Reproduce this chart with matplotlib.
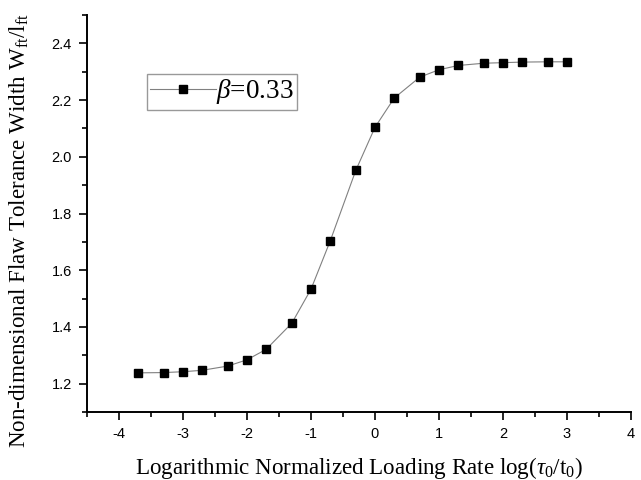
import matplotlib
matplotlib.use("Agg")
import matplotlib.pyplot as plt
from matplotlib.ticker import MultipleLocator

x_vals = [-3.7, -3.3, -3.0, -2.7, -2.3, -2.0, -1.7, -1.3, -1.0, -0.7, -0.3,
          0.0, 0.3, 0.7, 1.0, 1.3, 1.7, 2.0, 2.3, 2.7, 3.0]
y_vals = [1.238, 1.239, 1.242, 1.247, 1.262, 1.284, 1.321, 1.413, 1.533, 1.703, 1.952,
          2.104, 2.207, 2.281, 2.307, 2.322, 2.330, 2.332, 2.334, 2.335, 2.335]
series_label = r"$\beta$=0.33"
x_ticks = [-4, -3, -2, -1, 0, 1, 2, 3, 4]
y_ticks = [1.2, 1.4, 1.6, 1.8, 2.0, 2.2, 2.4]

plt.rcParams['mathtext.fontset'] = 'custom'
plt.rcParams['mathtext.rm'] = 'Liberation Serif'
plt.rcParams['mathtext.it'] = 'Liberation Serif:italic'

fig = plt.figure(figsize=(6.41, 4.8), dpi=100)
ax = fig.add_axes([0.1357, 0.1417, 0.8487, 0.827])

ax.plot(x_vals, y_vals, color='#808080', lw=0.8, marker='s', markersize=6.1,
        markerfacecolor='black', markeredgecolor='black', label=series_label)

ax.set_xlim(-4.5, 4)
ax.set_ylim(1.1, 2.5)
ax.set_xticks(x_ticks)
ax.set_yticks(y_ticks)
ax.set_xticklabels([str(t) for t in x_ticks], family='Liberation Sans', fontsize=10.5)
ax.set_yticklabels([f"{t:.1f}" for t in y_ticks], family='Liberation Sans', fontsize=10.5)
ax.xaxis.set_minor_locator(MultipleLocator(0.5))
ax.yaxis.set_minor_locator(MultipleLocator(0.1))
ax.tick_params(which='major', direction='out', length=6, width=1.2, pad=5)
ax.tick_params(which='minor', direction='out', length=3.5, width=1.2)
for s in ['top', 'right']:
    ax.spines[s].set_visible(False)
for s in ['left', 'bottom']:
    ax.spines[s].set_linewidth(1.4)

ax.set_xlabel(r"Logarithmic Normalized Loading Rate log($\tau_0$/t$_0$)",
              family='Liberation Serif', fontsize=16.6, labelpad=10)
ax.set_ylabel(r"Non-dimensional Flaw Tolerance Width W$_{\mathrm{ft}}$/l$_{\mathrm{ft}}$",
              family='Liberation Serif', fontsize=16.6)
ax.yaxis.set_label_coords(-0.103, 0.458)

leg = ax.legend(loc='upper left', bbox_to_anchor=(0.110, 0.851), numpoints=1,
                prop={'family': 'Liberation Serif', 'size': 19.5}, frameon=True,
                fancybox=False, handlelength=2.45, handletextpad=0.0,
                borderpad=0.12, borderaxespad=0)
leg.get_frame().set_edgecolor('#808080')
leg.get_frame().set_linewidth(1.0)

fig.savefig("out.png", dpi=100)
